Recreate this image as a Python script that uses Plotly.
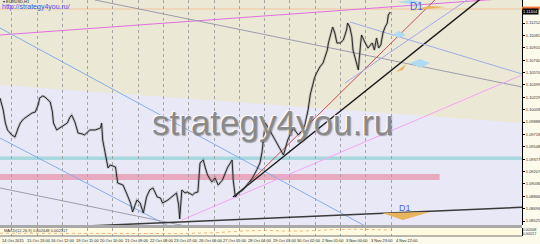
import plotly.graph_objects as go

# ---------------- data ----------------
# H1 bar index (0 = 14 Oct 2015 00:00) and close-ish price path
price_bar = [0, 3, 5, 7, 11, 14, 17, 19, 22, 25, 30, 33, 36, 37, 40, 42, 45, 47, 49, 50,
             53, 56, 58, 63, 65, 67, 70, 73, 77, 79, 84, 89, 94, 95, 96, 98, 100, 101, 103, 106,
             108, 110, 115, 119, 122, 124, 128, 131, 134, 137, 140, 143, 147, 150, 152, 157, 162, 165, 167, 168,
             170, 173, 175, 180, 182, 185, 187, 190, 192, 194, 198, 201, 204, 208, 211, 213, 217, 218, 220, 223,
             227, 232, 236, 240, 243, 245, 248, 252, 257, 262, 265, 269, 274, 279, 283, 285, 288, 290, 292, 294,
             296, 299, 302, 306, 307, 310, 311, 313, 315, 318, 321, 324, 325, 327, 329, 330, 332, 334, 335, 337,
             338, 341, 344, 348, 350, 352, 354, 356, 358, 360, 362, 363, 365]
price_val = [1.10219, 1.10054, 1.09875, 1.09779, 1.09710, 1.09682, 1.09806, 1.09875, 1.09930, 1.09958,
             1.10013, 1.10026, 1.10137, 1.10219, 1.10247, 1.10233, 1.10192, 1.10164, 1.10026, 1.09875,
             1.09779, 1.09806, 1.09820, 1.09875, 1.09944, 1.09985, 1.09889, 1.09737, 1.09723, 1.09710,
             1.09779, 1.09779, 1.09806, 1.09875, 1.09641, 1.09476, 1.09365, 1.09255, 1.09296, 1.09283,
             1.09269, 1.09049, 1.09021, 1.08883, 1.08773, 1.08649, 1.08814, 1.08773, 1.08635, 1.08856,
             1.08952, 1.08980, 1.08856, 1.08842, 1.08773, 1.08814, 1.08883, 1.08911, 1.08746, 1.08553,
             1.08952, 1.08911, 1.08925, 1.08883, 1.08911, 1.08925, 1.09324, 1.09365, 1.09255, 1.09159,
             1.09062, 1.09117, 1.09021, 1.09090, 1.09200, 1.09269, 1.09365, 1.09090, 1.08856, 1.08911,
             1.08952, 1.09049, 1.09117, 1.09228, 1.09324, 1.09476, 1.09875, 1.09779, 1.09641, 1.09503,
             1.09434, 1.09641, 1.09806, 1.09710, 1.09779, 1.09847, 1.10054, 1.10261, 1.10398, 1.10495,
             1.10564, 1.10646, 1.10701, 1.10880, 1.10977, 1.11156, 1.11197, 1.11115, 1.10977, 1.10977,
             1.11018, 1.11156, 1.11252, 1.11197, 1.11059, 1.10880, 1.10770, 1.10646, 1.10605, 1.10949,
             1.11087, 1.10991, 1.10908, 1.10977, 1.10880, 1.11046, 1.10908, 1.10949, 1.11115, 1.11197,
             1.11252, 1.11362, 1.11404]

# trend lines (start bar, start price, end bar, end price)
trend_names = ["magenta", "gray_top", "blue_a", "blue_b", "gray_low", "black_low",
               "black_up", "red_up", "violet_up", "blue_top", "pink_up"]
trend_x0 = [0, 88.8, 0, 0, 0, 0, 217.8, 233.7, 322.5, 327.2, 170.1]
trend_y0 = [1.11087, 1.11569, 1.11183, 1.09668, 1.08980, 1.08405, 1.08856, 1.09062, 1.10426, 1.11266, 1.08539]
trend_x1 = [488, 488, 374, 168.3, 187, 488, 458, 411.3, 444, 488, 488]
trend_y1 = [1.11605, 1.10371, 1.08195, 1.08374, 1.08415, 1.08713, 1.11687, 1.11638, 1.11643, 1.10550, 1.10536]

# zones
zone_top_left, zone_top_right = 1.10398, 1.09875      # lavender channel top edge
cyan_lo, cyan_hi = 1.09365, 1.09414
pinkz_lo, pinkz_hi, pinkz_end = 1.09090, 1.09173, 411
ask_level = 1.11445
last_price = 1.11404

# axis labels
y_ticks = [1.11252, 1.11081, 1.10910, 1.10740, 1.10570, 1.10399, 1.10229, 1.10058, 1.09888,
           1.09718, 1.09548, 1.09377, 1.09207, 1.09036, 1.08866, 1.08696, 1.08525]
date_labels = ["14 Oct 2015", "15 Oct 13:00", "16 Oct 12:00", "19 Oct 11:00", "20 Oct 10:00",
               "21 Oct 09:00", "22 Oct 08:00", "23 Oct 07:00", "26 Oct 06:00", "27 Oct 05:00",
               "28 Oct 04:00", "29 Oct 03:00", "30 Oct 02:00", "2 Nov 01:00", "3 Nov 00:00",
               "3 Nov 23:00", "4 Nov 22:00"]
date_label_bars = [23 * k for k in range(len(date_labels))]

# MACD panel (normalised)
macd_bar = [0, 60, 120, 170, 200, 230, 250, 270, 290, 310, 330, 350, 365]
macd_val = [-0.3, -0.35, -0.3, -0.4, -0.2, 0.3, 0.4, 0.2, 0.3, 0.6, 0.7, 0.6, 0.5]

# drawn objects (arrows / markers)
orange_bot_x = [357.1, 402.0, 376.7]
orange_bot_y = [1.08635, 1.08649, 1.08539]
orange_top_x = [381.4, 416.9, 402.0]
orange_top_y = [1.11418, 1.11473, 1.11486]
orange_mid_x = [370.2, 379.6, 376.7]
orange_mid_y = [1.10577, 1.10687, 1.10605]
blue_marks_x = [[371.1, 383.3, 394.5, 383.3], [366.5, 373.0, 379.6, 373.0], [383.3, 392.6, 402.0, 392.6]]
blue_marks_y = [[1.11541, 1.11569, 1.11541, 1.11514], [1.11087, 1.11142, 1.11087, 1.11046],
                [1.10701, 1.10756, 1.10701, 1.10632]]

# ---------------- figure ----------------
W, H = 540, 244
PLOT_H = 236
XMAX = 488
YMIN, YMAX = 1.08470, 1.11569

trend_colors = ["#E070E0", "#9C9CAC", "#86AEE8", "#86AEE8", "#9C9CAC", "#3A3A3A",
                "#1E1E1E", "#C0504D", "#A8A8EC", "#9EAEE4", "#F2A6F2"]
trend_widths = [1, 1, 1, 1, 1, 1.5, 1.5, 1, 1, 1, 1]

fig = go.Figure()

for i in range(len(trend_names)):
    fig.add_trace(go.Scatter(x=[trend_x0[i], trend_x1[i]], y=[trend_y0[i], trend_y1[i]],
                             mode="lines", line=dict(color=trend_colors[i], width=trend_widths[i]),
                             hoverinfo="skip", showlegend=False))

# price path: grey halo + black line (candles look)
fig.add_trace(go.Scatter(x=price_bar, y=price_val, mode="lines",
                         line=dict(color="rgba(110,110,110,0.35)", width=2.6),
                         hoverinfo="skip", showlegend=False))
fig.add_trace(go.Scatter(x=price_bar, y=price_val, mode="lines",
                         line=dict(color="#1A1A1A", width=0.9),
                         hoverinfo="skip", showlegend=False))

# MACD panel line
fig.add_trace(go.Scatter(x=macd_bar, y=macd_val, yaxis="y2", mode="lines",
                         line=dict(color="rgba(235,150,90,0.7)", width=1, dash="dot"),
                         hoverinfo="skip", showlegend=False))

shapes = []
# lavender channel
shapes.append(dict(type="path", xref="x", yref="y", layer="below",
                   path=f"M 0,{zone_top_left} L {XMAX},{zone_top_right} L {XMAX},{YMIN} L 0,{YMIN} Z",
                   fillcolor="#E8E8F6", line=dict(width=0)))
shapes.append(dict(type="rect", xref="x", yref="y", layer="below", x0=0, x1=XMAX,
                   y0=cyan_lo, y1=cyan_hi, fillcolor="#A6D8DD", line=dict(width=0)))
shapes.append(dict(type="rect", xref="x", yref="y", layer="below", x0=0, x1=pinkz_end,
                   y0=pinkz_lo, y1=pinkz_hi, fillcolor="#E7AABF", line=dict(width=0)))
shapes.append(dict(type="line", xref="x", yref="y", layer="below", x0=0, x1=XMAX,
                   y0=ask_level, y1=ask_level, line=dict(color="#F2C49C", width=1)))


def poly(xs, ys):
    return "M " + " L ".join(f"{a},{b}" for a, b in zip(xs, ys)) + " Z"


for xs, ys in zip(blue_marks_x, blue_marks_y):
    shapes.append(dict(type="path", xref="x", yref="y", path=poly(xs, ys),
                       fillcolor="#AEDAF2", line=dict(width=0)))
for xs, ys in [(orange_bot_x, orange_bot_y), (orange_top_x, orange_top_y), (orange_mid_x, orange_mid_y)]:
    shapes.append(dict(type="path", xref="x", yref="y", path=poly(xs, ys),
                       fillcolor="#E8B45E", line=dict(width=0)))

# separator + indicator panel
sep_lo, sep_hi = 8 / PLOT_H, 11 / PLOT_H
shapes.append(dict(type="rect", xref="paper", yref="paper", x0=0, x1=1, y0=sep_lo, y1=sep_hi,
                   fillcolor="#A9A9A9", line=dict(width=0), layer="below"))
shapes.append(dict(type="rect", xref="paper", yref="paper", x0=0, x1=1, y0=0, y1=sep_lo,
                   fillcolor="#FFFAE0", line=dict(width=0), layer="below"))
shapes.append(dict(type="line", xref="paper", yref="paper", x0=0, x1=1, y0=0, y1=0,
                   line=dict(color="#777777", width=1)))
# last price marker (orange ask box)
shapes.append(dict(type="rect", xref="paper", yref="y", x0=1, x1=1 + 18 / 522,
                   y0=1.11431, y1=1.11478, fillcolor="#F07838", line=dict(width=0)))

ann = []
# watermark (embossed look via text shadow)
ann.append(dict(text="strategy4you.ru", xref="paper", yref="paper", x=272 / 522, y=(PLOT_H - 123) / PLOT_H,
                showarrow=False,
                font=dict(family="Liberation Sans, Arial", size=35, color="rgba(132,132,132,0.95)",
                          shadow="-1px -1px 1px #ffffff, 1px 1px 1px rgba(60,60,60,0.45)")))
ann.append(dict(text="▾ EURUSD,H1", xref="paper", yref="paper", x=0.002, y=(PLOT_H - 2) / PLOT_H,
                xanchor="left", yanchor="middle", showarrow=False,
                font=dict(family="Liberation Sans", size=4, color="#222")))
ann.append(dict(text="http://strategy4you.ru/", xref="paper", yref="paper", x=0.0, y=(PLOT_H - 7) / PLOT_H,
                xanchor="left", yanchor="middle", showarrow=False,
                font=dict(family="Liberation Sans", size=7, color="#3B52E8")))
ann.append(dict(text="D1", xref="x", yref="y", x=389, y=1.11473, showarrow=False,
                font=dict(family="Liberation Sans", size=10, color="#4466EE")))
ann.append(dict(text="D1", xref="x", yref="y", x=379, y=1.08700, showarrow=False,
                font=dict(family="Liberation Sans", size=9, color="#4466EE")))
ann.append(dict(text=f"{last_price:.5f}", xref="paper", yref="y", x=1.0, y=last_price,
                xanchor="left", yanchor="middle", showarrow=False, bgcolor="#000000", borderpad=0,
                font=dict(family="Liberation Sans", size=4, color="#FFFFFF")))
ann.append(dict(text="MACD(12,26,9) 0.002648 0.002517", xref="paper", yref="paper", x=0.003,
                y=(PLOT_H - 230) / PLOT_H, xanchor="left", yanchor="middle", showarrow=False,
                font=dict(family="Liberation Sans", size=4, color="#333")))
for txt, py in [("0.002648", 230), ("-0.000217", 234)]:
    ann.append(dict(text=txt, xref="paper", yref="paper", x=1 + 17 / 522, y=(PLOT_H - py) / PLOT_H,
                    xanchor="right", yanchor="middle", showarrow=False,
                    font=dict(family="Liberation Sans", size=3.2, color="#333")))
for b, t in zip(date_label_bars, date_labels):
    ann.append(dict(text=t, xref="x", yref="paper", x=b, y=-4 / PLOT_H, xanchor="left",
                    yanchor="middle", showarrow=False,
                    font=dict(family="Liberation Sans", size=4, color="#222")))

grid_vals = [10.94 + 23.65 * k for k in range(16)]

fig.update_layout(
    width=W, height=H, margin=dict(l=0, r=18, t=0, b=H - PLOT_H),
    paper_bgcolor="#FCFAEB", plot_bgcolor="#EBE8D5",
    shapes=shapes, annotations=ann, showlegend=False,
    xaxis=dict(range=[0, XMAX], tickvals=grid_vals, showticklabels=False, ticks="",
               showgrid=True, gridcolor="#A4A4A4", griddash="dot", gridwidth=1,
               zeroline=False, showline=False, anchor="y", fixedrange=True),
    yaxis=dict(range=[YMIN, YMAX], domain=[sep_hi, 1], side="right", anchor="x",
               tickvals=y_ticks, ticktext=[f"{v:.5f}" for v in y_ticks],
               tickfont=dict(family="Liberation Sans", size=4, color="#333"),
               ticks="outside", ticklen=2, tickcolor="#000", showgrid=False, zeroline=False,
               showline=True, linecolor="#000", linewidth=1),
    yaxis2=dict(range=[-1, 1], domain=[0, sep_lo], side="right", anchor="x",
                showticklabels=False, ticks="", showgrid=False, zeroline=False,
                showline=True, linecolor="#000", linewidth=1),
)

fig.write_html("out.html")
